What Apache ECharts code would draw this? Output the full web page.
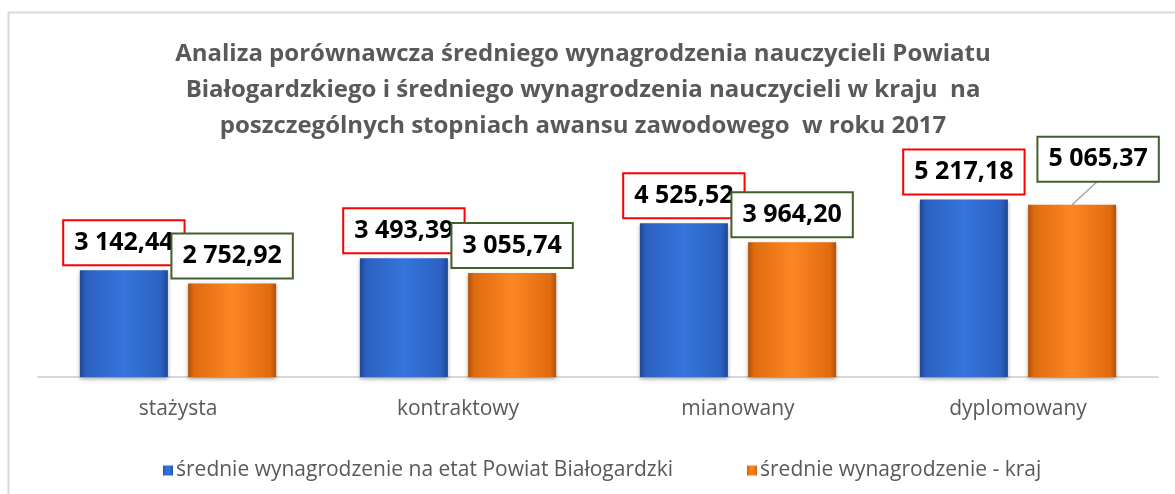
<!DOCTYPE html>
<html>
<head>
<meta charset="utf-8">
<script src="https://cdn.jsdelivr.net/npm/echarts@6/dist/echarts.min.js"></script>
<style>
  html, body { margin: 0; padding: 0; background: #fff; }
  #echarts_box { width: 1175px; height: 494px; }
</style>
</head>
<body>
<div id="echarts_box"></div>
<script>
// dane z wykresu
var categories = ['stażysta', 'kontraktowy', 'mianowany', 'dyplomowany'];
var powiatValues = [3142.44, 3493.39, 4525.52, 5217.18];
var krajValues = [2752.92, 3055.74, 3964.20, 5065.37];
var seriesNames = ['średnie wynagrodzenie na etat Powiat Białogardzki', 'średnie wynagrodzenie - kraj'];
var titleLines = [
  'Analiza porównawcza średniego wynagrodzenia nauczycieli Powiatu',
  'Białogardzkiego i średniego wynagrodzenia nauczycieli w kraju  na',
  'poszczególnych stopniach awansu zawodowego  w roku 2017'
];

var FONT = '"Open Sans", "DejaVu Sans", sans-serif';
var BAR_W = 88;
var BAR_GAP = 0.23;
var LABEL_DIST = 6;
var MOVED = 3;            // etykieta przesunieta (dyplomowany, kraj)
var MOVE_DX = 26, MOVE_DY = -18;

function fmt(v) {
  var parts = v.toFixed(2).split('.');
  return parts[0].replace(/\B(?=(\d{3})+(?!\d))/g, ' ') + ',' + parts[1];
}

function barGradient(edge, mid, center) {
  return new echarts.graphic.LinearGradient(0, 0, 1, 0, [
    { offset: 0, color: edge },
    { offset: 0.07, color: mid },
    { offset: 0.5, color: center },
    { offset: 0.93, color: mid },
    { offset: 1, color: edge }
  ]);
}

function labelBox(borderColor) {
  return {
    show: true,
    position: 'top',
    distance: LABEL_DIST,
    formatter: function (p) { return fmt(p.value); },
    color: '#000',
    fontFamily: FONT,
    fontWeight: 'bold',
    fontSize: 25,
    lineHeight: 29,
    backgroundColor: '#fff',
    borderColor: borderColor,
    borderWidth: 2,
    padding: [7, 10, 7, 10]
  };
}

var myChart = echarts.init(document.getElementById('echarts_box'));
myChart.setOption({
  animation: false,
  textStyle: { fontFamily: FONT },
  title: {
    text: titleLines.join('\n'),
    left: 578,
    top: 31,
    textAlign: 'center',
    textStyle: {
      color: '#595959',
      fontFamily: FONT,
      fontWeight: 'bold',
      fontSize: 24,
      lineHeight: 36
    }
  },
  graphic: [{
    type: 'rect',
    shape: { x: 8.5, y: 12.5, width: 1200, height: 600 },
    style: { fill: 'none', stroke: '#d9d9d9', lineWidth: 2 },
    silent: true
  }],
  legend: {
    left: 158,
    top: 455,
    itemWidth: 10,
    itemHeight: 10,
    itemGap: 74,
    icon: 'rect',
    textStyle: { color: '#595959', fontSize: 21, fontFamily: FONT, padding: [0, 0, 0, -2] },
    data: seriesNames
  },
  grid: { left: 38, right: 17, top: 173, bottom: 117 },
  xAxis: {
    type: 'category',
    data: categories,
    axisLine: { lineStyle: { color: '#d9d9d9', width: 2 } },
    axisTick: { show: false },
    axisLabel: { color: '#595959', fontSize: 21, fontFamily: FONT, margin: 22 }
  },
  yAxis: {
    type: 'value',
    min: 0,
    max: 6000,
    show: false,
    splitLine: { show: false }
  },
  series: [
    {
      name: seriesNames[0],
      type: 'bar',
      barWidth: BAR_W,
      barGap: (BAR_GAP * 100) + '%',
      data: powiatValues,
      itemStyle: {
        color: barGradient('#1f4690', '#2b60c0', '#3575dc'),
        shadowColor: 'rgba(0,0,0,0.35)',
        shadowBlur: 4,
        shadowOffsetY: 2
      },
      label: labelBox('#ff0000')
    },
    {
      name: seriesNames[1],
      type: 'bar',
      barWidth: BAR_W,
      barGap: (BAR_GAP * 100) + '%',
      data: krajValues,
      itemStyle: {
        color: barGradient('#b0520b', '#e06c10', '#fd8622'),
        shadowColor: 'rgba(0,0,0,0.35)',
        shadowBlur: 4,
        shadowOffsetY: 2
      },
      label: labelBox('#435f2b'),
      labelLayout: function (p) {
        if (p.dataIndex === MOVED) return { dx: MOVE_DX, dy: MOVE_DY };
        return {};
      }
    },
    {
      // linia odnosnika od slupka do przesunietej etykiety
      type: 'custom',
      silent: true,
      z: 1,
      data: [[MOVED, krajValues[MOVED]]],
      renderItem: function (params, api) {
        var p = api.coord([api.value(0), api.value(1)]);
        var x0 = p[0] + (BAR_W + BAR_W * BAR_GAP) / 2;
        return {
          type: 'line',
          shape: { x1: x0, y1: p[1], x2: x0 + MOVE_DX, y2: p[1] - LABEL_DIST + MOVE_DY },
          style: { stroke: '#a6a6a6', lineWidth: 1.5 }
        };
      }
    }
  ]
});
</script>
</body>
</html>
